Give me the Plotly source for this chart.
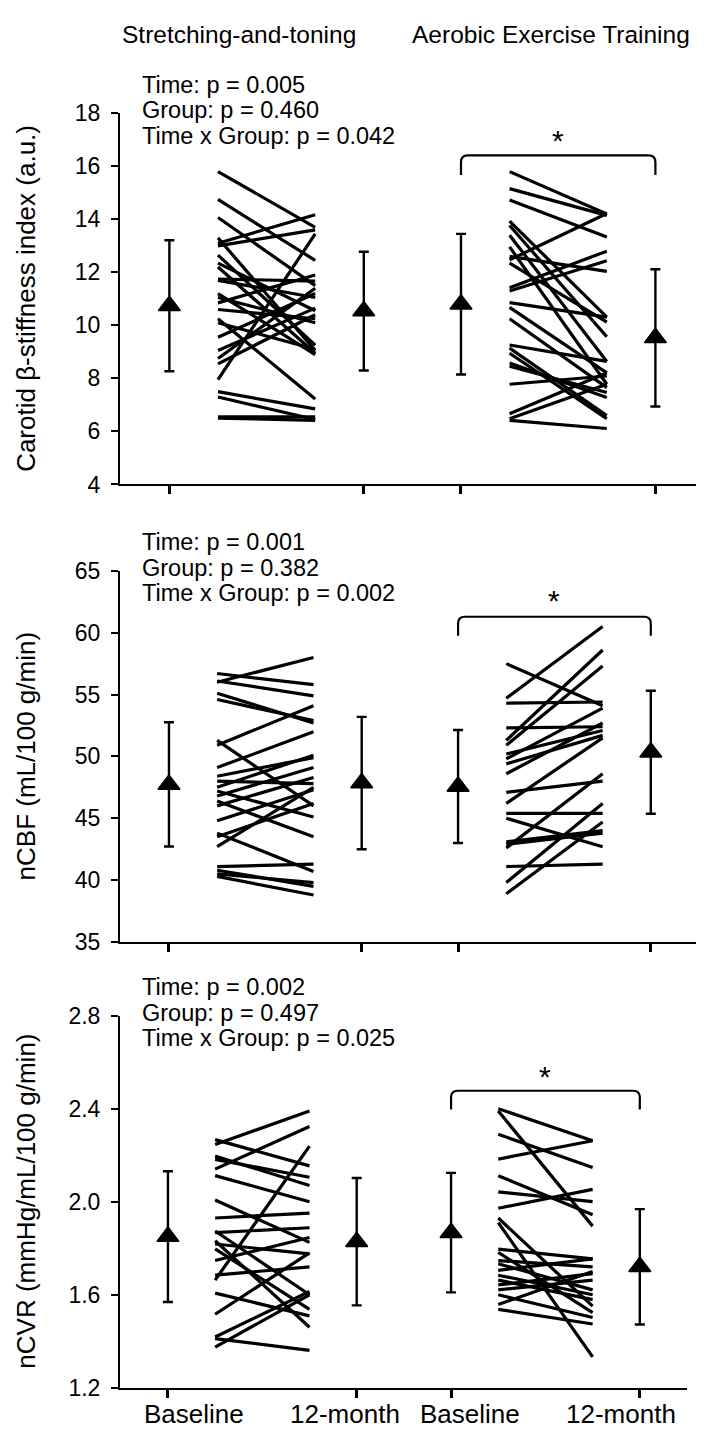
import plotly.graph_objects as go

W, H = 704, 1434
FONT = "Liberation Sans, Arial, sans-serif"

# ---------------- categories / labels ----------------
cat_pos = [0.0, 1.0, 1.5, 2.5]              # Baseline, 12-month, Baseline, 12-month
line_pos_st = (0.25, 0.75)                  # individual lines, Stretching-and-toning
line_pos_aet = (1.75, 2.25)                 # individual lines, Aerobic Exercise Training
xlabels = ["Baseline", "12-month", "Baseline", "12-month"]
xlabel_pos = [0.14, 0.94, 1.60, 2.40]
group_titles = ["Stretching-and-toning", "Aerobic Exercise Training"]

# ---------------- Panel 1: Carotid beta-stiffness ----------------
beta_st_pre = [15.8, 14.75, 14.07, 13.3, 13.1, 13.0, 12.65, 12.35, 12.2, 11.75, 11.7, 11.2, 11.05,
               10.85, 10.6, 10.25, 10.1, 9.55, 9.05, 8.75, 8.55, 7.95, 7.5, 7.3, 6.55, 6.5]
beta_st_post = [13.7, 12.45, 11.5, 9.05, 14.17, 13.6, 9.25, 10.55, 8.95, 11.67, 11.05, 8.9, 10.1,
                11.9, 10.25, 7.22, 9.1, 11.2, 10.65, 11.4, 10.4, 13.45, 6.85, 6.45, 6.55, 6.42]
beta_aet_pre = [15.8, 15.16, 14.73, 13.93, 13.77, 13.4, 12.96, 12.6, 12.47, 12.35, 11.42, 11.3,
                10.86, 10.68, 10.25, 9.26, 9.14, 8.95, 8.58, 8.46, 7.78, 6.67, 6.48, 6.42]
beta_aet_post = [14.2, 14.15, 13.33, 10.31, 9.57, 8.64, 7.78, 12.04, 14.22, 10.12, 12.8, 12.44,
                 10.31, 8.21, 7.65, 8.64, 6.6, 6.48, 7.28, 7.47, 8.09, 8.21, 7.78, 6.11]
beta_mean = [10.74, 10.54, 10.80, 9.53]
beta_sd = [2.47, 2.24, 2.65, 2.59]
beta_pvals = ["Time: p = 0.005", "Group: p = 0.460", "Time x Group: p = 0.042"]
beta_ticks = [4, 6, 8, 10, 12, 14, 16, 18]
beta_range = [4, 18]
beta_bracket = [15.67, 16.41, 16.96]       # bracket leg end, bracket top, star

# ---------------- Panel 2: nCBF ----------------
cbf_st_pre = [56.7, 56.1, 56.0, 55.1, 54.6, 51.3, 50.9, 49.1, 48.4, 48.0, 47.5, 47.2, 46.8, 46.4,
              46.0, 44.8, 43.8, 43.5, 42.7, 41.1, 40.8, 40.5, 40.3]
cbf_st_post = [55.8, 54.9, 58.0, 52.7, 52.9, 46.0, 54.1, 52.0, 49.9, 47.8, 50.1, 45.1, 49.1, 43.5,
               48.3, 47.3, 40.7, 46.2, 47.5, 41.3, 39.5, 39.8, 38.8]
cbf_aet_pre = [57.5, 54.7, 54.3, 52.3, 51.3, 50.9, 50.2, 49.8, 49.4, 48.6, 47.1, 46.2, 45.4, 45.0,
               43.1, 42.9, 42.6, 41.1, 39.8, 38.9]
cbf_aet_post = [54.1, 60.5, 54.4, 52.4, 58.6, 57.3, 52.1, 53.9, 51.7, 52.7, 48.0, 51.5, 45.4, 42.7,
                44.0, 43.8, 48.6, 41.3, 46.2, 44.7]
cbf_mean = [47.74, 47.85, 47.57, 50.34]
cbf_sd = [5.02, 5.35, 4.57, 4.97]
cbf_pvals = ["Time: p = 0.001", "Group: p = 0.382", "Time x Group: p = 0.002"]
cbf_ticks = [35, 40, 45, 50, 55, 60, 65]
cbf_range = [35, 65]
cbf_bracket = [59.75, 61.29, 62.6]

# ---------------- Panel 3: nCVR ----------------
cvr_st_pre = [2.267, 2.246, 2.196, 2.182, 2.14, 2.112, 2.007, 1.93, 1.874, 1.867, 1.832, 1.818,
              1.797, 1.747, 1.684, 1.663, 1.607, 1.516, 1.418, 1.411, 1.375]
cvr_st_post = [2.154, 2.39, 2.07, 2.105, 2.323, 2.0, 1.825, 1.951, 1.6, 1.888, 1.46, 1.776,
               1.537, 1.846, 1.72, 2.239, 1.509, 1.78, 1.614, 1.361, 1.6]
cvr_aet_pre = [2.40, 2.39, 2.29, 2.183, 2.112, 2.042, 1.972, 1.93, 1.91, 1.796, 1.782, 1.747,
               1.733, 1.705, 1.684, 1.663, 1.642, 1.621, 1.60, 1.558, 1.537]
cvr_aet_post = [2.262, 1.895, 2.147, 2.262, 1.944, 2.0, 2.053, 1.551, 1.333, 1.754, 1.523, 1.72,
                1.621, 1.754, 1.6, 1.579, 1.691, 1.663, 1.502, 1.70, 1.474]
cvr_mean = [1.85, 1.828, 1.867, 1.72]
cvr_sd = [0.281, 0.274, 0.257, 0.248]
cvr_pvals = ["Time: p = 0.002", "Group: p = 0.497", "Time x Group: p = 0.025"]
cvr_ticks = [1.2, 1.6, 2.0, 2.4, 2.8]
cvr_range = [1.2, 2.8]
cvr_bracket = [2.396, 2.477, 2.54]

ytitles = ["Carotid β-stiffness index (a.u.)", "nCBF (mL/100 g/min)", "nCVR (mmHg/mL/100 g/min)"]

# ---------------- layout geometry (pixels) ----------------
x_left_px = 112
x_right_px = [696, 691, 679]
y_top_px = [94, 560, 1013]
y_bot_px = [472, 938, 1392]
xrange = [-0.254, 2.75]

panels = [
    (beta_st_pre, beta_st_post, beta_aet_pre, beta_aet_post, beta_mean, beta_sd, beta_pvals,
     beta_ticks, beta_range, beta_bracket, None),
    (cbf_st_pre, cbf_st_post, cbf_aet_pre, cbf_aet_post, cbf_mean, cbf_sd, cbf_pvals,
     cbf_ticks, cbf_range, cbf_bracket, None),
    (cvr_st_pre, cvr_st_post, cvr_aet_pre, cvr_aet_post, cvr_mean, cvr_sd, cvr_pvals,
     cvr_ticks, cvr_range, cvr_bracket, ".1f"),
]

fig = go.Figure()
annotations = []
shapes = []
layout_axes = {}


def px_x(p):
    return p / W


def px_y(p):
    return 1 - p / H


for i, (st_pre, st_post, aet_pre, aet_post, mean, sd, pvals, ticks, yr, br, tfmt) in enumerate(panels):
    sfx = "" if i == 0 else str(i + 1)
    xa, ya = "x" + sfx, "y" + sfx

    for pre, post, (xa0, xa1) in ((st_pre, st_post, line_pos_st), (aet_pre, aet_post, line_pos_aet)):
        xs, ys = [], []
        for a, b in zip(pre, post):
            xs += [xa0, xa1, None]
            ys += [a, b, None]
        fig.add_trace(go.Scatter(x=xs, y=ys, mode="lines", line=dict(color="black", width=3.2),
                                 xaxis=xa, yaxis=ya, hoverinfo="skip", showlegend=False))

    fig.add_trace(go.Scatter(
        x=cat_pos, y=mean, mode="markers",
        marker=dict(symbol="triangle-up", size=19, color="black", line=dict(color="black", width=1.5)),
        error_y=dict(type="data", array=sd, visible=True, color="black", thickness=2.4, width=5),
        xaxis=xa, yaxis=ya, hoverinfo="skip", showlegend=False))

    layout_axes["xaxis" + sfx] = dict(
        domain=[px_x(x_left_px), px_x(x_right_px[i])], range=xrange, anchor=ya,
        showline=True, linecolor="black", linewidth=2, ticks="outside", ticklen=8, tickwidth=2.5,
        tickcolor="black", tickvals=cat_pos, showticklabels=False, showgrid=False, zeroline=False,
        fixedrange=True)
    layout_axes["yaxis" + sfx] = dict(
        domain=[px_y(y_bot_px[i]), px_y(y_top_px[i])], range=yr, anchor=xa,
        showline=True, linecolor="black", linewidth=2, ticks="outside", ticklen=7, tickwidth=2,
        tickcolor="black", tickvals=ticks, tickformat=tfmt, showgrid=False, zeroline=False,
        tickfont=dict(family=FONT, size=23, color="black"), ticklabelstandoff=6, fixedrange=True)

    # p-values
    for k, txt in enumerate(pvals):
        annotations.append(dict(text=txt, xref="paper", yref="paper", x=px_x(132),
                                y=px_y(y_top_px[i] - 29 + 26 * k), xanchor="left", yanchor="middle",
                                showarrow=False, font=dict(family=FONT, size=23.5, color="black")))

    # y title
    annotations.append(dict(text=ytitles[i], xref="paper", yref="paper", x=px_x(18),
                            y=px_y((y_top_px[i] + y_bot_px[i]) / 2), textangle=-90,
                            xanchor="center", yanchor="middle", showarrow=False,
                            font=dict(family=FONT, size=26, color="black")))

    # significance bracket between AET baseline and 12-month
    xb0, xb1 = cat_pos[2], cat_pos[3]
    leg, top, star = br
    rx = 0.035
    ry = (top - leg) * 0.35
    path = (f"M {xb0},{leg} L {xb0},{top - ry} Q {xb0},{top} {xb0 + rx},{top} "
            f"L {xb1 - rx},{top} Q {xb1},{top} {xb1},{top - ry} L {xb1},{leg}")
    shapes.append(dict(type="path", path=path, xref=xa, yref=ya,
                       line=dict(color="black", width=2.2)))
    annotations.append(dict(text="*", xref=xa, yref=ya, x=(xb0 + xb1) / 2, y=star,
                            xanchor="center", yanchor="middle", showarrow=False,
                            font=dict(family=FONT, size=30, color="black")))

# group titles
for txt, cx in zip(group_titles, [231, 543]):
    annotations.append(dict(text=txt, xref="paper", yref="paper", x=px_x(cx), y=px_y(14),
                            xanchor="center", yanchor="middle", showarrow=False,
                            font=dict(family=FONT, size=24.5, color="black")))

# x labels (bottom panel)
for txt, xp in zip(xlabels, xlabel_pos):
    annotations.append(dict(text=txt, xref="x3", yref="paper", x=xp, y=px_y(1419),
                            xanchor="center", yanchor="middle", showarrow=False,
                            font=dict(family=FONT, size=26, color="black")))

fig.update_layout(
    width=W, height=H, margin=dict(l=0, r=0, t=0, b=0),
    paper_bgcolor="white", plot_bgcolor="white",
    showlegend=False, annotations=annotations, shapes=shapes,
    font=dict(family=FONT, color="black"),
    **layout_axes)

fig.write_html("out.html")
